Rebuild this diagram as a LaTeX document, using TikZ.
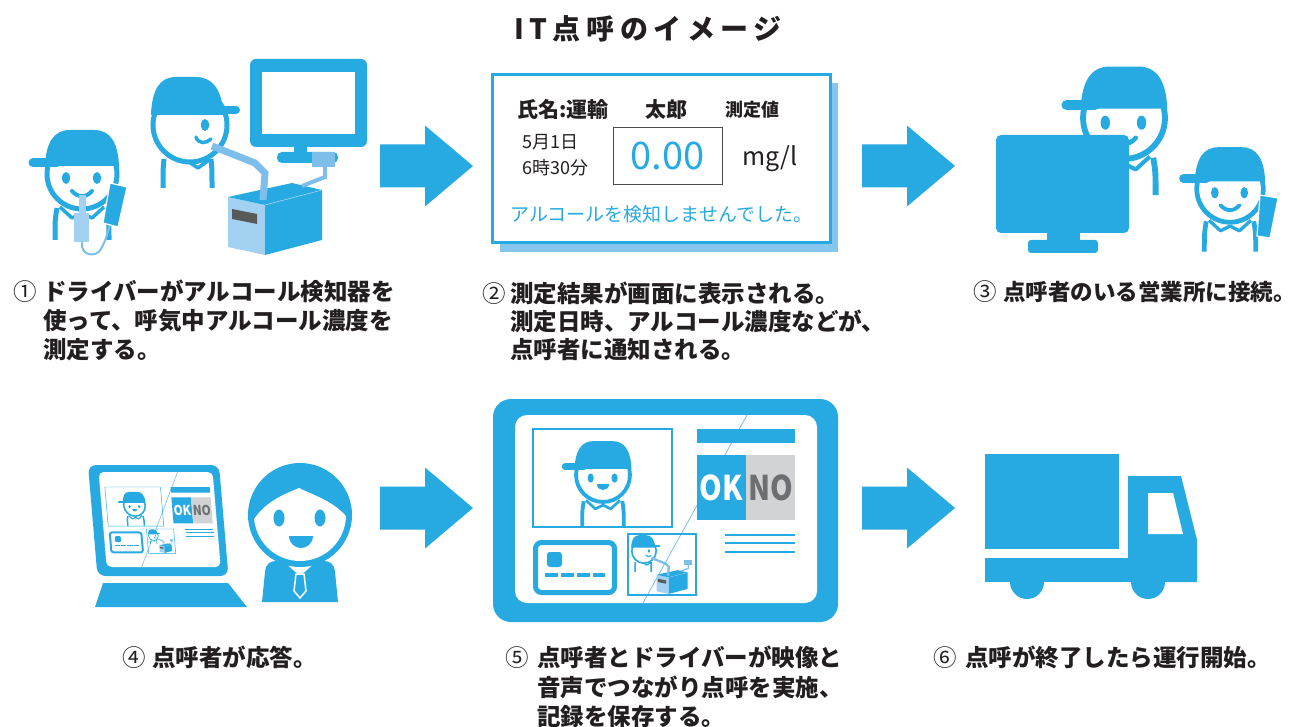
\documentclass[tikz,border=0pt]{standalone}
\usepackage{fontspec}
\setmainfont{Noto Sans CJK JP}
\usepackage{graphicx}

\definecolor{blu}{HTML}{27AAE1}
\definecolor{lblu}{HTML}{7DBFEA}
\definecolor{pblu}{HTML}{A3D1F2}
\definecolor{cardshadow}{HTML}{86C5EC}
\definecolor{ink}{HTML}{231F20}
\definecolor{slot}{HTML}{58595B}
\definecolor{nogray}{HTML}{D1D3D4}
\definecolor{nodark}{HTML}{6D6E71}
\definecolor{boxline}{HTML}{4D4D4F}

\newcommand\labfont{\fontsize{23.5}{28}\selectfont\bfseries}
\newcommand\numfont{\fontsize{23.5}{28}\selectfont}
\newcommand\titlefont{\fontsize{28}{30}\selectfont\bfseries\addfontfeatures{LetterSpace=20}}
\newcommand\okfont{\fontsize{34}{34}\selectfont\bfseries}
\newcommand\dscale{1}

\tikzset{
  ds/.style={transform shape, scale=#1, /utils/exec={\pgfmathsetmacro\dscale{\dscale*#1}}},
  lab/.style={anchor=base west, inner sep=0pt, text=ink, font=\labfont},
  labnum/.style={anchor=base, inner sep=0pt, text=ink, font=\numfont},
  cardtxt/.style={anchor=base west, inner sep=0pt, text=ink},
  okno/.style={inner sep=0pt, transform shape, xscale=0.85, font=\okfont},
  % block arrow, origin at the tail centre
  pics/bigarrow/.style={code={
    \fill[blu] (0,-21.5) -- (45,-21.5) -- (45,-40.5) -- (93,0) -- (45,40.5) -- (45,21.5) -- (0,21.5) -- cycle;
  }},
  % front-facing driver with cap, origin at the face centre
  pics/drvbase/.style={code={
    \draw[blu, line width=\dscale*5pt] (-25,34) .. controls (-27,46) .. (-27,66);
    \draw[blu, line width=\dscale*5pt] (25,34) .. controls (27,46) .. (27,66);
    \draw[blu, line width=\dscale*3.5pt, line join=round] (-22,33) -- (-10,44) -- (0,39) -- (10,44) -- (22,33);
    \draw[blu, line width=\dscale*5pt, fill=white] (0,0) circle (35);
    \fill[blu] (-37,-8) .. controls (-36,-32) and (-28,-44) .. (-12,-44) -- (12,-44) .. controls (28,-44) and (36,-32) .. (37,-8) -- cycle;
    \draw[blu, line width=\dscale*9pt, line cap=round] (-49,-11) -- (-25,-11);
    \fill[blu] (-16,4) ellipse (4 and 6) (15,4) ellipse (4 and 6);
  }},
  pics/drvsmile/.style={code={
    \pic {drvbase};
    \draw[blu, line width=\dscale*4pt, line cap=round] (-10,17) .. controls (-4,24) and (4,24) .. (10,17);
  }},
  pics/drvopen/.style={code={
    \pic {drvbase};
    \fill[blu] (-8,12) -- (8,12) .. controls (7,22) and (-7,22) .. (-8,12) -- cycle;
  }},
  % driver in profile blowing into the detector box, origin at the face centre
  pics/station/.style={code={
    \draw[blu, line width=\dscale*5pt] (-26,34) .. controls (-27,44) .. (-27,63);
    \draw[blu, line width=\dscale*5pt] (21,34) .. controls (22,44) .. (22,63);
    \draw[blu, line width=\dscale*3.5pt, line join=round] (-4,35) -- (8,43) -- (19,35);
    \draw[blu, line width=\dscale*5pt, fill=white] (0,0) circle (37);
    \fill[blu] (-39,-10) .. controls (-38,-36) and (-30,-48) .. (-14,-48) -- (6,-48) .. controls (22,-48) and (31,-36) .. (33,-15) -- (38,-10) -- cycle;
    \draw[blu, line width=\dscale*8pt, line cap=round] (20,-15) -- (46,-15);
    \fill[blu] (15,0) ellipse (4 and 6);
    \draw[blu, line width=\dscale*3.5pt, line cap=round] (6,12) .. controls (8,19) and (16,19) .. (21,14);
    \fill[pblu] (38,72) -- (75,80) -- (75,130) -- (38,122) -- cycle;
    \fill[blu] (38,72) -- (102,58) -- (132,65) -- (75,80) -- cycle;
    \fill[blu] (75,80) -- (132,65) -- (132,115) -- (75,130) -- cycle;
    \draw[pblu, line width=\dscale*0.6pt] (75,80) -- (132,65);
    \fill[slot] (42,84) -- (67,89) -- (67,99) -- (42,94) -- cycle;
    \draw[lblu, line width=\dscale*7pt] (22,21) -- (65,38) -- (75,48) -- (73,75);
    \draw[lblu, line width=\dscale*4pt] (112,61) -- (135,52) -- (135,42);
    \fill[lblu] (122,27) rectangle (145,42);
  }},
  % video-call screen layout, origin at the top left of the video frame
  pics/screen/.style={code={
    \begin{scope}
      \clip (0,0) rectangle (139,98);
      \pic[ds=0.77] at (70,46) {drvopen};
    \end{scope}
    \draw[blu, line width=\dscale*1.2pt] (0,0) rectangle (139,98);
    \fill[blu] (164,0) rectangle (262,14);
    \fill[blu] (164,26) rectangle (213,91);
    \fill[nogray] (213,26) rectangle (262,91);
    \node[okno, text=white] (-ok) at (188.5,58.5) {OK};
    \node[okno, text=nodark] (-no) at (237.5,58.5) {NO};
    \draw[blu, line width=\dscale*2pt] (192,106) -- (262,106) (192,114) -- (262,114) (192,123) -- (262,123);
    \draw[blu, line width=\dscale*5pt, rounded corners=\dscale*6pt] (2.5,113.5) rectangle (81.5,163.5);
    \fill[blu, rounded corners=\dscale*3pt] (14,123) rectangle (29,138);
    \draw[blu, line width=\dscale*4pt] (12,146) -- (25,146) (28,146) -- (41,146) (44,146) -- (57,146) (60,146) -- (72,146);
    \draw[blu, line width=\dscale*1.2pt] (95,105) rectangle (163,166);
    \pic[ds=0.33] at (111,122) {station};
  }},
}

\begin{document}
\begin{tikzpicture}[x=1pt, y=-1pt]
\useasboundingbox (0,0) rectangle (1303,727);
\fill[white] (0,0) rectangle (1303,727);

\node[anchor=base, inner sep=0pt, text=ink, font=\titlefont] (title) at (648,40) {IT点呼のイメージ};

% ---- step 1: breath test at the detector ----
\pic at (82,174) {drvsmile};
\fill[pblu] (79,195) rectangle (86,214);
\fill[pblu] (74,213) rectangle (89,242);
\draw[lblu, line width=2pt] (82,242) .. controls (80,256) and (96,258) .. (101,249) .. controls (106,240) and (108,232) .. (110,224);
\filldraw[blu, draw=white, line width=1.2pt] (110,183) -- (127,187) -- (118,227) -- (103,223) -- cycle;

\fill[blu, rounded corners=6pt] (250,59) rectangle (367,147);
\fill[white] (262,72) rectangle (355,134);
\fill[blu] (294,145) rectangle (307,154);
\fill[blu, rounded corners=5pt] (277,152) rectangle (338,163);
\pic at (190,125) {station};

% ---- step 2: result card ----
\fill[cardshadow] (500,83) rectangle (838,252);
\draw[blu, line width=3pt, fill=white] (492,75) rectangle (830,243);
\node[cardtxt, font=\fontsize{21}{21}\selectfont\bfseries] (name) at (517,118) {氏名:運輸};
\node[cardtxt, font=\fontsize{21}{21}\selectfont\bfseries] (given) at (645,118) {太郎};
\node[cardtxt, font=\fontsize{18}{18}\selectfont\bfseries] (valhead) at (725,117) {測定値};
\node[cardtxt, font=\fontsize{18}{18}\selectfont] (date) at (522,149) {5月1日};
\node[cardtxt, font=\fontsize{18}{18}\selectfont] (time) at (522,175) {6時30分};
\draw[boxline, line width=1pt] (613,128) rectangle (722,185);
\node[anchor=base, inner sep=0pt, text=blu, font=\fontsize{38}{38}\selectfont] (value) at (667.5,170) {0.00};
\node[cardtxt, font=\fontsize{25}{25}\selectfont] (unit) at (742,166) {mg/l};
\node[cardtxt, text=blu, font=\fontsize{19}{19}\selectfont] (verdict) at (510,222) {アルコールを検知しませんでした。};

% ---- step 3: connected to the office ----
\pic at (1124,118) [ds=1.17] {drvsmile};
\fill[blu, rounded corners=5pt] (996,135) rectangle (1129,233);
\fill[blu] (1047,231) rectangle (1080,242);
\fill[blu, rounded corners=3pt] (1028,240) rectangle (1098,253);
\pic at (1230,189) [ds=0.95] {drvsmile};
\filldraw[blu, draw=white, line width=1.2pt] (1260,195) -- (1278,198) -- (1270,238) -- (1257,236) -- cycle;

% ---- arrows ----
\pic at (380,166) {bigarrow};
\pic at (862,166) {bigarrow};
\pic at (380,508) {bigarrow};
\pic at (862,508) {bigarrow};

% ---- step 4: laptop and operator ----
\begin{scope}[shift={(88,465)}, xslant=-0.085]
  \fill[blu, rounded corners=8pt] (0,0) rectangle (131,111);
  \fill[white, rounded corners=5pt] (10,7) rectangle (124,102);
  \draw[lblu, line width=0.6pt] (89,7) -- (45,102);
  \pic[ds=0.4] at (15,22) {screen};
\end{scope}
\fill[blu] (103,583) -- (228,583) -- (247,607) -- (95,607) -- cycle;

\fill[blu] (262,602) -- (265,572) .. controls (266,563) and (270,561) .. (278,561) -- (322,561) .. controls (330,561) and (334,563) .. (335,572) -- (338,602) -- cycle;
\fill[white] (283,561) -- (300,576) -- (317,561) -- cycle;
\filldraw[blu, draw=white, line width=1.5pt] (296,574) -- (304,574) -- (306,591) -- (300,598) -- (294,591) -- cycle;
\fill[blu] (300,515) circle (52);
\begin{scope}
  \clip (300,515) circle (46);
  \fill[white] (250,526) .. controls (262,502) and (285,494) .. (299,488) .. controls (315,496) and (338,502) .. (352,524) -- (352,570) -- (250,570) -- cycle;
\end{scope}
\fill[blu] (279,518) ellipse (5.5 and 8.5) (320,518) ellipse (5.5 and 8.5);
\fill[blu] (289,536) -- (313,536) .. controls (312,552) and (290,552) .. (289,536) -- cycle;

% ---- step 5: tablet with the call ----
\fill[blu, rounded corners=18pt] (493,399) rectangle (838,622);
\fill[white, rounded corners=12pt] (515,415) rectangle (817,603);
\draw[lblu, line width=0.8pt] (747,415) -- (643,603);
\pic (tab) at (533,429) {screen};

% ---- step 6: truck ----
\fill[blu] (985,454) rectangle (1119,549);
\fill[blu] (985,558) rectangle (1197,582);
\fill[blu] (1128,476) -- (1181,476) -- (1197,540) -- (1197,582) -- (1128,582) -- cycle;
\fill[white] (1148,493) -- (1173,493) -- (1183,534) -- (1148,534) -- cycle;
\fill[blu] (1027,582) circle (17) (1148,582) circle (17);

% ---- captions ----
\node[labnum] (n1) at (25,300) {①};
\node[lab] (t1a) at (43,300) {ドライバーがアルコール検知器を};
\node[lab] (t1b) at (43,329) {使って、呼気中アルコール濃度を};
\node[lab] (t1c) at (43,358) {測定する。};

\node[labnum] (n2) at (494,302) {②};
\node[lab] (t2a) at (510,302) {測定結果が画面に表示される。};
\node[lab] (t2b) at (510,330) {測定日時、アルコール濃度などが、};
\node[lab] (t2c) at (510,358) {点呼者に通知される。};

\node[labnum] (n3) at (985,300) {③};
\node[lab, font=\fontsize{22.5}{28}\selectfont\bfseries] (t3a) at (1003,300) {点呼者のいる営業所に接続。};

\node[labnum] (n4) at (134,666) {④};
\node[lab] (t4a) at (152,666) {点呼者が応答。};

\node[labnum] (n5) at (517,666) {⑤};
\node[lab] (t5a) at (537,666) {点呼者とドライバーが映像と};
\node[lab] (t5b) at (537,696) {音声でつながり点呼を実施、};
\node[lab] (t5c) at (537,725) {記録を保存する。};

\node[labnum] (n6) at (945,666) {⑥};
\node[lab] (t6a) at (965,666) {点呼が終了したら運行開始。};
\end{tikzpicture}
\end{document}
